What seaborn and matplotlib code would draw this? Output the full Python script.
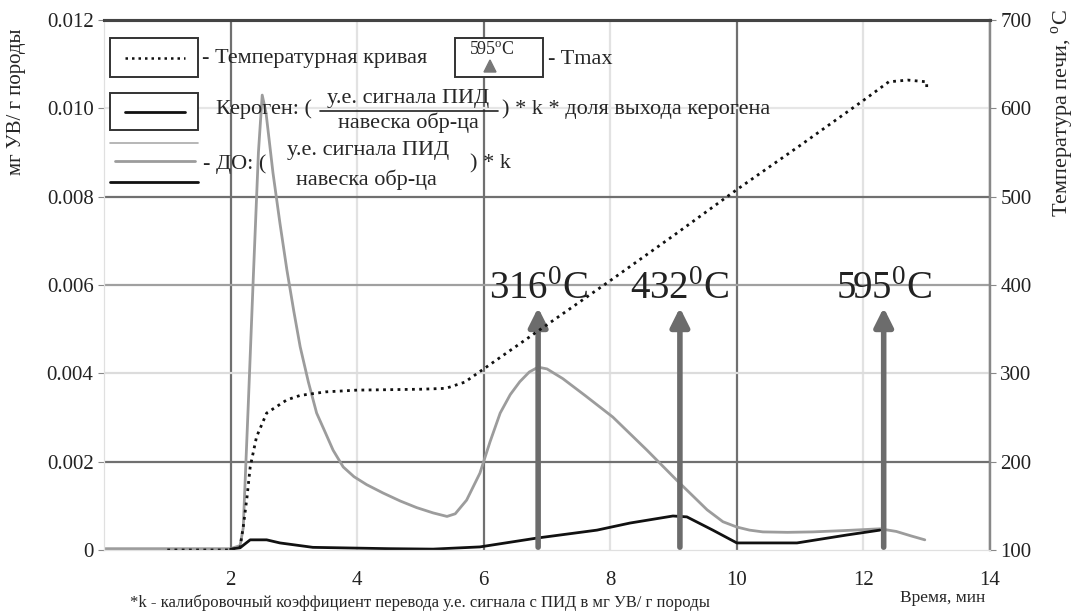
import seaborn as sns
import matplotlib.pyplot as plt
from matplotlib.patches import Rectangle
from matplotlib.lines import Line2D

# данные
# ДО (серая кривая), мг УВ / г породы
time_do = [0.0, 1.0, 2.0, 2.15, 2.2, 2.28, 2.36, 2.44, 2.5, 2.56, 2.67, 2.78, 2.89, 3.0, 3.1,
           3.23, 3.36, 3.5, 3.62, 3.78, 3.95, 4.15, 4.41, 4.68, 4.94, 5.2, 5.42, 5.55, 5.73,
           5.94, 6.1, 6.26, 6.42, 6.57, 6.72, 6.86, 7.0, 7.25, 7.6, 8.04, 8.58, 9.05, 9.53,
           9.78, 10.0, 10.2, 10.41, 10.8, 11.2, 11.7, 12.26, 12.52, 12.75, 12.97]
do_vals = [0.00003, 0.00003, 0.00003, 0.0001, 0.0005, 0.0033, 0.0062, 0.0090, 0.0103, 0.0099,
           0.00854, 0.0074, 0.00634, 0.0054, 0.0046, 0.0038, 0.0031, 0.00265, 0.00226,
           0.00188, 0.00166, 0.00148, 0.00129, 0.00111, 0.00096, 0.00084, 0.00076, 0.00082,
           0.00113, 0.00174, 0.00245, 0.0031, 0.00352, 0.00381, 0.00403, 0.00414, 0.0041,
           0.00388, 0.0035, 0.00301, 0.00226, 0.00158, 0.00091, 0.00064, 0.00052, 0.00045,
           0.00041, 0.0004, 0.00041, 0.00044, 0.00048, 0.00042, 0.00032, 0.00023]

# Кероген (чёрная кривая)
time_ker = [2.0, 2.15, 2.31, 2.57, 2.78, 3.3, 4.5, 5.2, 5.94, 6.84, 7.79, 8.31, 8.99, 9.21,
            9.62, 10.0, 10.95, 11.74, 12.26]
ker_vals = [0.00002, 0.00005, 0.00023, 0.00023, 0.00016, 0.00006, 0.00003, 0.00002, 0.00007,
            0.00027, 0.00045, 0.00061, 0.00077, 0.00075, 0.00045, 0.00016, 0.00016, 0.00034,
            0.00045]

# Температурная кривая, °C
time_t = [1.0, 2.0, 2.15, 2.2, 2.26, 2.31, 2.41, 2.57, 2.89, 3.1, 3.5, 4.0, 5.0, 5.4, 5.7,
          6.0, 7.0, 8.0, 9.0, 10.0, 11.0, 12.0, 12.4, 12.7, 13.0, 13.0]
temp = [100, 100, 103, 126, 160, 194, 228, 255, 270, 275, 279, 281, 282, 283, 290,
        305, 355, 405, 456, 508, 558, 609, 630, 632, 630, 620]

# Tmax
tmax_time = [6.86, 9.1, 12.32]
tmax_labels = ['316', '432', '595']

xticks = [2, 4, 6, 8, 10, 12, 14]
yticks_left = [0, 0.002, 0.004, 0.006, 0.008, 0.010, 0.012]
yticks_right = [100, 200, 300, 400, 500, 600, 700]

sns.set_style('white')
plt.rcParams['font.family'] = ['Liberation Serif', 'DejaVu Serif']
plt.rcParams['mathtext.fontset'] = 'custom'
plt.rcParams['mathtext.rm'] = 'Liberation Serif'

W, H = 1075, 615
fig = plt.figure(figsize=(W / 100, H / 100), dpi=100)
ax = fig.add_axes([104 / W, 1 - 550 / H, 886 / W, 530 / H])
ax2 = ax.twinx()


def px(x, y):
    return x / W, 1 - y / H


sns.lineplot(x=time_do, y=do_vals, ax=ax, color='#9c9c9c', lw=2, sort=False, estimator=None)
sns.lineplot(x=time_ker, y=ker_vals, ax=ax, color='#111111', lw=2, sort=False, estimator=None)
sns.lineplot(x=time_t, y=temp, ax=ax2, color='#111111', lw=2, sort=False, estimator=None,
             linestyle=(0, (1, 1.6)))

ax.set_xlim(0, 14)
ax.set_ylim(0, 0.012)
ax2.set_ylim(100, 700)
ax.set_xticks(xticks)
ax.set_yticks(yticks_left)
ax.set_yticklabels(['0'] + ['%.3f' % v for v in yticks_left[1:]])
ax2.set_yticks(yticks_right)
ax.tick_params(labelsize=15, length=4, color='#888888', colors='#222222', direction='out')
ax2.tick_params(labelsize=15, length=4, color='#888888', colors='#222222', direction='out')
ax.tick_params(axis='x', length=10, pad=5)

# сетка: линии разной насыщенности как на скане
ax.grid(True, lw=1.6)
xgrid_cols = ['#707070', '#e2e2e2', '#707070', '#e2e2e2', '#707070', '#e2e2e2', '#707070']
for gl, c in zip(ax.get_xgridlines(), xgrid_cols):
    gl.set_color(c)
ygrid_cols = ['none', '#707070', '#dcdcdc', '#a0a0a0', '#707070', '#e6e6e6', '#555555']
for gl, c in zip(ax.get_ygridlines(), ygrid_cols):
    gl.set_color(c)
ax.set_axisbelow(True)

for a in (ax, ax2):
    for s in ['left', 'bottom']:
        a.spines[s].set_color('#e0e0e0')
    a.spines['top'].set_color('#444444')
    a.spines['top'].set_linewidth(2.2)
    a.spines['right'].set_color('#888888')
    a.spines['right'].set_linewidth(1.6)

ax.set_ylabel('')
ax2.set_ylabel('')
fig.text(*px(17, 102), 'мг УВ/ г породы', rotation=90, ha='center', va='center', fontsize=15)
fig.text(*px(1063, 113), 'Температура печи, $^{\\mathrm{o}}$C', rotation=90, ha='center',
         va='center', fontsize=16)
fig.text(*px(985, 598), 'Время, мин', ha='right', va='center', fontsize=12.5)
fig.text(*px(130, 603), '*k - калибровочный коэффициент перевода у.е. сигнала с ПИД в мг УВ/ г породы',
         ha='left', va='center', fontsize=12)

# стрелки Tmax
for t, lab in zip(tmax_time, tmax_labels):
    ax.annotate('', xy=(t, 0.00555), xytext=(t, 0.0),
                arrowprops=dict(arrowstyle='-|>', color='#6c6c6c', lw=4, mutation_scale=28))
    ax.text(t, 0.00589, lab + '$^{\\mathrm{0}}$C', ha='center', va='center', fontsize=28,
            color='#222222')

# легенда, нарисованная вручную
lg_fs = 16


def box(x0, y0, x1, y1, **kw):
    (fx0, fy1), (fx1, fy0) = px(x0, y0), px(x1, y1)
    fig.patches.append(Rectangle((fx0, fy0), fx1 - fx0, fy1 - fy0, transform=fig.transFigure,
                                 facecolor='white', edgecolor='#333333', lw=1.4, **kw))


def hline(x0, x1, y, **kw):
    (fx0, fy), (fx1, _) = px(x0, y), px(x1, y)
    fig.lines.append(Line2D([fx0, fx1], [fy, fy], transform=fig.transFigure, **kw))


# строка 1
box(110, 38, 198, 77)
hline(125, 185, 58, color='#111111', lw=1.8, linestyle=(0, (1, 1.6)))
fig.text(*px(202, 59), '- Температурная кривая', ha='left', va='center', fontsize=lg_fs)
box(455, 38, 543, 77)
fig.text(*px(492, 50), '595$^{\\mathrm{o}}$C', ha='center', va='center', fontsize=13)
fig.patches.append(plt.Polygon([px(484, 72), px(496, 72), px(490, 60)], closed=True,
                               transform=fig.transFigure, color='#777777'))
fig.text(*px(548, 59), '- Tmax', ha='left', va='center', fontsize=lg_fs)

# строка 2
box(110, 93, 198, 130)
hline(125, 185, 112, color='#111111', lw=2)
fig.text(*px(216, 109), 'Кероген: (', ha='left', va='center', fontsize=lg_fs)
fig.text(*px(408, 98), 'у.е. сигнала ПИД', ha='center', va='center', fontsize=lg_fs)
hline(320, 498, 111, color='#222222', lw=1.2)
fig.text(*px(408, 123), 'навеска обр-ца', ha='center', va='center', fontsize=lg_fs)
fig.text(*px(502, 109), ') * k * доля выхода керогена', ha='left', va='center', fontsize=lg_fs)

# строка 3
hline(110, 198, 143, color='#aaaaaa', lw=1.2)
hline(115, 195, 161, color='#9c9c9c', lw=2)
hline(110, 198, 182, color='#111111', lw=2)
fig.text(*px(203, 164), '- ДО: (', ha='left', va='center', fontsize=lg_fs)
fig.text(*px(368, 151), 'у.е. сигнала ПИД', ha='center', va='center', fontsize=lg_fs)
fig.text(*px(366, 180), 'навеска обр-ца', ha='center', va='center', fontsize=lg_fs)
fig.text(*px(470, 164), ') * k', ha='left', va='center', fontsize=lg_fs)

fig.savefig('out.png', dpi=100)
